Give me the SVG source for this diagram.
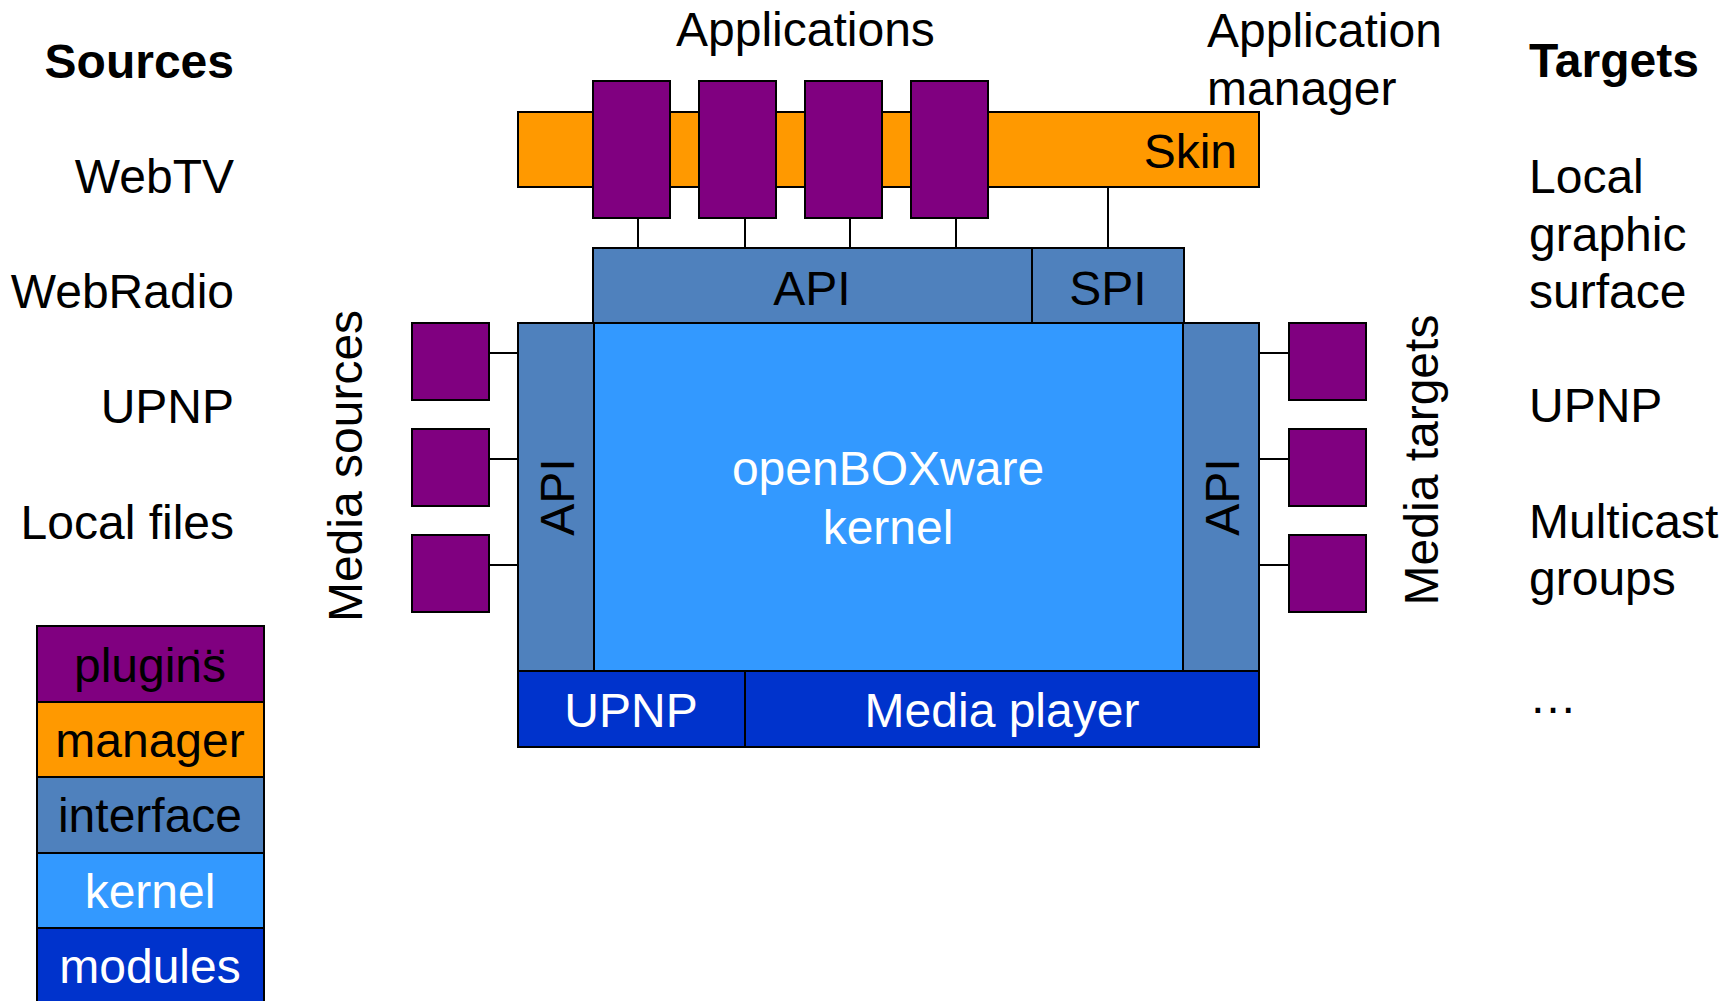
<svg xmlns="http://www.w3.org/2000/svg" width="1731" height="1001" viewBox="0 0 1731 1001">
<style>
text{font-family:"Liberation Sans",Arial,sans-serif;font-size:48px;fill:#000}
.b{font-weight:bold}
.w{fill:#fff}
.m{text-anchor:middle}
.e{text-anchor:end}
.box{stroke:#000;stroke-width:2}
.plug{fill:#800080}
.mgr{fill:#FF9900}
.ifc{fill:#4F81BD}
.krn{fill:#3399FF}
.mod{fill:#0033CC}
.con line{stroke:#000;stroke-width:2}
</style>
<rect x="0" y="0" width="1731" height="1001" fill="#fff"/>

<g id="sources">
<text class="b e" x="234" y="78">Sources</text>
<text class="e" x="234" y="193">WebTV</text>
<text class="e" x="234" y="308">WebRadio</text>
<text class="e" x="234" y="423">UPNP</text>
<text class="e" x="234" y="539">Local files</text>
</g>

<g id="targets">
<text class="b" x="1529" y="77">Targets</text>
<text x="1529" y="193">Local</text>
<text x="1529" y="251">graphic</text>
<text x="1529" y="308">surface</text>
<text x="1529" y="422">UPNP</text>
<text x="1529" y="538">Multicast</text>
<text x="1529" y="595">groups</text>
<text x="1529" y="713">…</text>
</g>

<g id="labels">
<text x="676" y="46">Applications</text>
<text x="1207" y="47">Application</text>
<text x="1207" y="105">manager</text>
<text class="m" transform="translate(362 466) rotate(-90)">Media sources</text>
<text class="m" transform="translate(1438 460) rotate(-90)">Media targets</text>
</g>

<g id="legend">
<rect class="box plug" x="37" y="626" width="227" height="76"/>
<text class="m" x="150" y="682">plugins</text>
<text style="font-size:40px" x="189" y="654">…</text>
<rect class="box mgr" x="37" y="702" width="227" height="75"/>
<text class="m" x="150" y="757">manager</text>
<rect class="box ifc" x="37" y="777" width="227" height="76"/>
<text class="m" x="150" y="832">interface</text>
<rect class="box krn" x="37" y="853" width="227" height="75"/>
<text class="m w" x="150" y="908">kernel</text>
<rect class="box mod" x="37" y="928" width="227" height="80"/>
<text class="m w" x="150" y="983">modules</text>
</g>

<g id="connectors" class="con">
<line x1="638" y1="218" x2="638" y2="248"/>
<line x1="745" y1="218" x2="745" y2="248"/>
<line x1="850" y1="218" x2="850" y2="248"/>
<line x1="956" y1="218" x2="956" y2="248"/>
<line x1="1108" y1="187" x2="1108" y2="248"/>
<line x1="489" y1="353" x2="518" y2="353"/>
<line x1="489" y1="459" x2="518" y2="459"/>
<line x1="489" y1="565" x2="518" y2="565"/>
<line x1="1259" y1="353" x2="1289" y2="353"/>
<line x1="1259" y1="459" x2="1289" y2="459"/>
<line x1="1259" y1="565" x2="1289" y2="565"/>
</g>

<g id="skin">
<rect class="box mgr" x="518" y="112" width="741" height="75"/>
<text class="e" x="1237" y="168">Skin</text>
</g>

<g id="app1"><rect class="box plug" x="593" y="81" width="77" height="137"/></g>
<g id="app2"><rect class="box plug" x="699" y="81" width="77" height="137"/></g>
<g id="app3"><rect class="box plug" x="805" y="81" width="77" height="137"/></g>
<g id="app4"><rect class="box plug" x="911" y="81" width="77" height="137"/></g>

<g id="api-top">
<rect class="box ifc" x="593" y="248" width="439" height="75"/>
<text class="m" x="812" y="305">API</text>
</g>
<g id="spi">
<rect class="box ifc" x="1032" y="248" width="152" height="75"/>
<text class="m" x="1108" y="305">SPI</text>
</g>

<g id="kernel">
<rect class="box krn" x="594" y="323" width="589" height="348"/>
<text class="m w" x="888" y="485">openBOXware</text>
<text class="m w" x="888" y="544">kernel</text>
</g>

<g id="api-left">
<rect class="box ifc" x="518" y="323" width="76" height="348"/>
<text class="m" transform="translate(574 497) rotate(-90)">API</text>
</g>
<g id="api-right">
<rect class="box ifc" x="1183" y="323" width="76" height="348"/>
<text class="m" transform="translate(1239 497) rotate(-90)">API</text>
</g>

<g id="upnp">
<rect class="box mod" x="518" y="671" width="227" height="76"/>
<text class="m w" x="631" y="727">UPNP</text>
</g>
<g id="media-player">
<rect class="box mod" x="745" y="671" width="514" height="76"/>
<text class="m w" x="1002" y="727">Media player</text>
</g>

<g id="src1"><rect class="box plug" x="412" y="323" width="77" height="77"/></g>
<g id="src2"><rect class="box plug" x="412" y="429" width="77" height="77"/></g>
<g id="src3"><rect class="box plug" x="412" y="535" width="77" height="77"/></g>
<g id="tgt1"><rect class="box plug" x="1289" y="323" width="77" height="77"/></g>
<g id="tgt2"><rect class="box plug" x="1289" y="429" width="77" height="77"/></g>
<g id="tgt3"><rect class="box plug" x="1289" y="535" width="77" height="77"/></g>
</svg>
